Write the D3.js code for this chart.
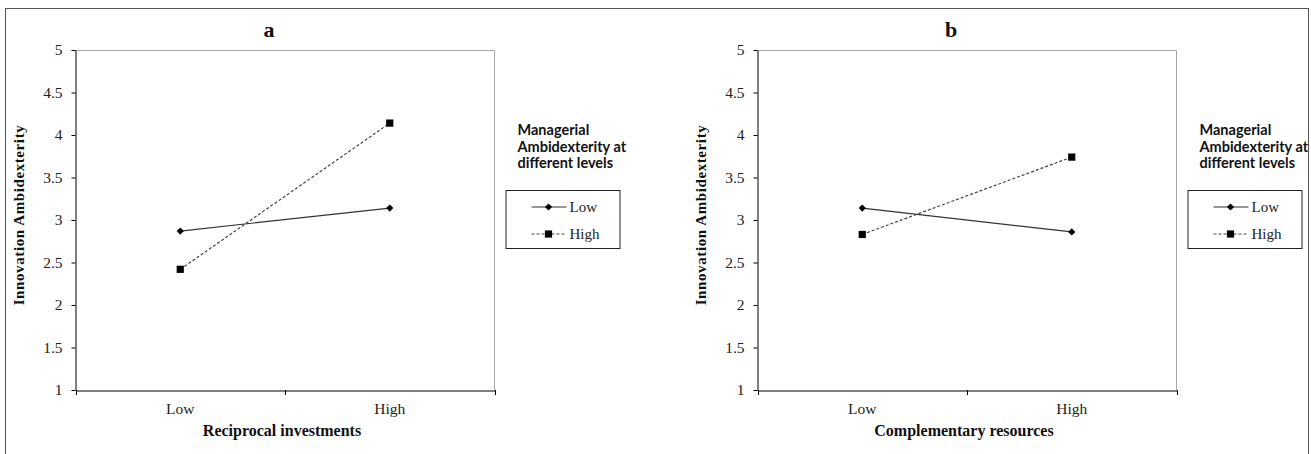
<!DOCTYPE html>
<html>
<head>
<meta charset="utf-8">
<script src="https://cdn.jsdelivr.net/npm/d3@7"></script>
<style>
body { margin: 0; background: #fff; }
.axis text { font-family: "Liberation Serif", "Times New Roman", serif; font-size: 15.5px; fill: #222; }
.axis path, .axis line { stroke: #000; }
.title { font-family: "Liberation Serif", serif; font-weight: bold; fill: #111; }
.legend-title { font-family: Lato, "Liberation Sans", sans-serif; font-weight: bold; font-size: 14.5px; fill: #111; }
.legend-label { font-family: "Liberation Serif", serif; font-size: 15px; fill: #222; }
</style>
</head>
<body>
<script>
var w = 1311;
var h = 454;

// data
var categories = ["Low", "High"];
var seriesNames = ["Low", "High"];
var panelNames = ["a", "b"];
var xTitles = ["Reciprocal investments", "Complementary resources"];
var yTitle = "Innovation Ambidexterity";
var legendTitle = ["Managerial", "Ambidexterity at", "different levels"];
var yTicks = [1, 1.5, 2, 2.5, 3, 3.5, 4, 4.5, 5];
var lowSeriesA = [2.87, 3.14];
var highSeriesA = [2.42, 4.14];
var lowSeriesB = [3.14, 2.86];
var highSeriesB = [2.83, 3.74];

var panels = [
    {"name": panelNames[0], "xTitle": xTitles[0], "series": [lowSeriesA, highSeriesA], "left": 75.5},
    {"name": panelNames[1], "xTitle": xTitles[1], "series": [lowSeriesB, highSeriesB], "left": 757.5}
];
var plotWidth = 419;
var plotTop = 50;
var plotBottom = 390;

var svg = d3.select("body")
            .append("svg")
            .attr("width", w)
            .attr("height", h);

// outer frame
svg.append("rect")
    .attr("x", 5.5)
    .attr("y", 8.5)
    .attr("width", 1303)
    .attr("height", 460)
    .attr("fill", "none")
    .attr("stroke", "#555");

var yScale = d3.scaleLinear()
                .domain([1, 5])
                .range([plotBottom, plotTop]);

var diamond = d3.symbol().type(d3.symbolSquare).size(26);
var square = d3.symbol().type(d3.symbolSquare).size(52);
var markers = [diamond, square];
var rotations = [45, 0];
var dashes = [null, "3,2"];
var lineColors = ["#333", "#444"];

panels.forEach(function(p){
    var g = svg.append("g");
    var xScale = d3.scaleBand()
                    .domain(categories)
                    .range([p.left, p.left+plotWidth]);
    var right = p.left+plotWidth;

    // plot frame (top and right)
    g.append("path")
        .attr("d", "M"+p.left+","+(plotTop+0.5)+"H"+right+"V"+plotBottom)
        .attr("fill", "none")
        .attr("stroke", "#a6a6a6");

    var yAxis = d3.axisLeft(yScale)
                    .tickValues(yTicks)
                    .tickSize(4)
                    .tickSizeOuter(0)
                    .tickPadding(9)
                    .tickFormat(function(d){ return d; });
    g.append("g")
        .classed("axis", true)
        .attr("transform", "translate("+p.left+",0)")
        .call(yAxis);

    var xAxis = d3.axisBottom(xScale)
                    .tickSize(0)
                    .tickSizeOuter(0)
                    .tickPadding(12);
    g.append("g")
        .classed("axis", true)
        .attr("transform", "translate(0,"+(plotBottom+0.5)+")")
        .call(xAxis);

    // tick marks at band boundaries
    var bounds = categories.map(function(c){ return xScale(c); }).concat([right]);
    g.selectAll("line.xtick")
        .data(bounds)
        .enter()
        .append("line")
        .attr("x1", function(d){ return Math.round(d)+0.5; })
        .attr("x2", function(d){ return Math.round(d)+0.5; })
        .attr("y1", plotBottom)
        .attr("y2", plotBottom+5)
        .attr("stroke", "#000");

    p.series.forEach(function(vals, si){
        var line = d3.line()
                    .x(function(d,i){ return xScale(categories[i])+xScale.bandwidth()/2; })
                    .y(function(d){ return yScale(d); });
        g.append("path")
            .datum(vals)
            .attr("d", line)
            .attr("fill", "none")
            .attr("stroke", lineColors[si])
            .attr("stroke-width", 1.2)
            .attr("stroke-dasharray", dashes[si]);
        g.selectAll("path.mk"+si)
            .data(vals)
            .enter()
            .append("path")
            .classed("mk"+si, true)
            .attr("d", markers[si])
            .attr("transform", function(d,i){
                return "translate("+(xScale(categories[i])+xScale.bandwidth()/2)+","+yScale(d)+") rotate("+rotations[si]+")";
            })
            .attr("fill", "#000");
    });

    // titles
    g.append("text")
        .classed("title", true)
        .attr("x", p.left+plotWidth/2-16)
        .attr("y", 37)
        .attr("text-anchor", "middle")
        .style("font-size", "22px")
        .text(p.name);

    g.append("text")
        .classed("title", true)
        .attr("x", p.left+plotWidth/2-3)
        .attr("y", 436)
        .attr("text-anchor", "middle")
        .style("font-size", "16px")
        .text(p.xTitle);

    g.append("text")
        .classed("title", true)
        .attr("transform", "translate("+(p.left-52)+","+(plotTop+(plotBottom-plotTop)/2-5)+") rotate(-90)")
        .attr("text-anchor", "middle")
        .style("font-size", "15px")
        .style("letter-spacing", "0.6px")
        .text(yTitle);

    // legend
    var lx = right+11;
    g.selectAll("text.legend-title")
        .data(legendTitle)
        .enter()
        .append("text")
        .classed("legend-title", true)
        .attr("x", lx+12)
        .attr("y", function(d,i){ return 135+i*16.5; })
        .text(function(d){ return d; });

    g.append("rect")
        .attr("x", lx+0.5)
        .attr("y", 190.5)
        .attr("width", 114)
        .attr("height", 58)
        .attr("fill", "none")
        .attr("stroke", "#222");

    var rows = g.selectAll("g.legend-row")
                .data(seriesNames)
                .enter()
                .append("g")
                .attr("transform", function(d,i){ return "translate("+lx+","+(207+i*27)+")"; });
    rows.append("line")
        .attr("x1", 26)
        .attr("x2", 61)
        .attr("stroke", function(d,i){ return lineColors[i]; })
        .attr("stroke-width", 1.2)
        .attr("stroke-dasharray", function(d,i){ return dashes[i]; });
    rows.append("path")
        .attr("d", function(d,i){ return markers[i](); })
        .attr("transform", function(d,i){ return "translate(43,0) rotate("+rotations[i]+")"; })
        .attr("fill", "#000");
    rows.append("text")
        .classed("legend-label", true)
        .attr("x", 64)
        .attr("y", 5)
        .text(function(d){ return d; });
});
</script>
</body>
</html>
